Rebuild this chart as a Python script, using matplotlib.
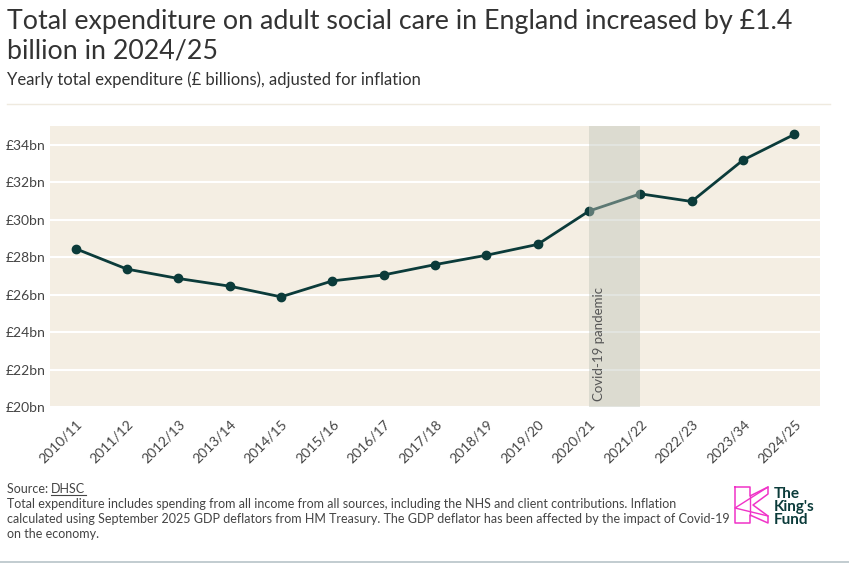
import matplotlib
matplotlib.use("Agg")
import matplotlib.pyplot as plt
from matplotlib.lines import Line2D

# data
years = ["2010/11", "2011/12", "2012/13", "2013/14", "2014/15", "2015/16", "2016/17",
         "2017/18", "2018/19", "2019/20", "2020/21", "2021/22", "2022/23", "2023/34", "2024/25"]
spend = [28.45, 27.36, 26.86, 26.45, 25.88, 26.73, 27.05, 27.6, 28.1, 28.68,
         30.46, 31.38, 30.97, 33.18, 34.55]
yticks = [20, 22, 24, 26, 28, 30, 32, 34]
covid_start = "2020/21"
covid_end = "2021/22"

title_lines = ["Total expenditure on adult social care in England increased by £1.4",
               "billion in 2024/25"]
subtitle = "Yearly total expenditure (£ billions), adjusted for inflation"
notes = ["Total expenditure includes spending from all income from all sources, including the NHS and client contributions. Inflation",
         "calculated using September 2025 GDP deflators from HM Treasury. The GDP deflator has been affected by the impact of Covid-19",
         "on the economy."]

plt.rcParams['font.family'] = ['Lato', 'DejaVu Sans']

fig = plt.figure(figsize=(8.49, 5.70), dpi=100)
W, H = 849, 570

def fx(px):
    return px / W

def fy(py):
    return 1 - py / H

ax = fig.add_axes([fx(50), fy(407), fx(820) - fx(50), fy(126) - fy(407)])
ax.set_facecolor('#F4EEE3')
x = list(range(len(years)))
ax.plot(x, spend, color='#0B3B3A', lw=2.0, marker='o', ms=6, zorder=3)
ax.axvspan(years.index(covid_start), years.index(covid_end), color='#BFC4B9', alpha=0.45,
           lw=0, zorder=4)
ax.text(years.index(covid_start) + 0.07, 20.3, "Covid-19 pandemic", rotation=90,
        ha='left', va='bottom', fontsize=9.5, color='#555555', zorder=5)

ax.set_xlim(-0.5, len(years) - 0.5)
ax.set_ylim(20, 35)
ax.set_yticks(yticks)
ax.set_yticklabels([f"£{v}bn" for v in yticks])
ax.set_xticks(x)
ax.set_xticklabels(years, rotation=45, ha='right', rotation_mode='anchor')
ax.grid(axis='y', color='white', lw=1.5, zorder=1)
ax.set_axisbelow(True)
for s in ax.spines.values():
    s.set_visible(False)
ax.tick_params(axis='both', length=0, labelsize=10, colors='#444444', pad=3)
ax.tick_params(axis='x', pad=8)

# titles
fig.text(fx(7), fy(29), title_lines[0], ha='left', va='baseline', fontsize=19.3, color='#333333')
fig.text(fx(7), fy(58), title_lines[1], ha='left', va='baseline', fontsize=19.3, color='#333333')
fig.text(fx(7), fy(85), subtitle, ha='left', va='baseline', fontsize=12, color='#333333')
fig.add_artist(Line2D([fx(7), fx(830)], [fy(104), fy(104)], color='#EFEADF', lw=1))

# footer
foot_kw = dict(ha='left', va='baseline', fontsize=9, color='#444444')
src = fig.text(fx(7), fy(493), "Source: ", **foot_kw)
fig.canvas.draw()
bb = src.get_window_extent()
dhsc = fig.text(bb.x1 / W, fy(493), "DHSC", **foot_kw)
fig.canvas.draw()
bb2 = dhsc.get_window_extent()
fig.add_artist(Line2D([bb2.x0 / W, bb2.x1 / W], [fy(495), fy(495)], color='#444444', lw=0.8))
for i, line in enumerate(notes):
    fig.text(fx(7), fy(508 + 15 * i), line, **foot_kw)

# logo
pink = '#F033C8'
lx, ly = 735, 487
kx = [0, 15, 15, 33, 33, 18, 33, 33, 15, 15, 0, 0]
ky = [0, 0, 9, 0, 7, 18, 29, 36, 28, 36, 36, 0]
fig.add_artist(Line2D([fx(lx + v) for v in kx], [fy(ly + v) for v in ky], color=pink, lw=1.1))
fig.add_artist(Line2D([fx(lx + v) for v in [33, 0, 33]], [fy(ly + v) for v in [0, 21, 29]],
                      color=pink, lw=1.0))
fig.add_artist(Line2D([fx(lx + v) for v in [15, 15]], [fy(ly + v) for v in [9, 28]],
                      color=pink, lw=1.0))
fig.text(fx(774), fy(487), "The\nKing's\nFund", ha='left', va='top', fontsize=11,
         fontweight='bold', color='#0B3B3A', linespacing=0.92)

fig.add_artist(Line2D([0, 1], [fy(562), fy(562)], color='#B7C3C8', lw=1.2))

fig.savefig("out.png", dpi=100, facecolor='white')
